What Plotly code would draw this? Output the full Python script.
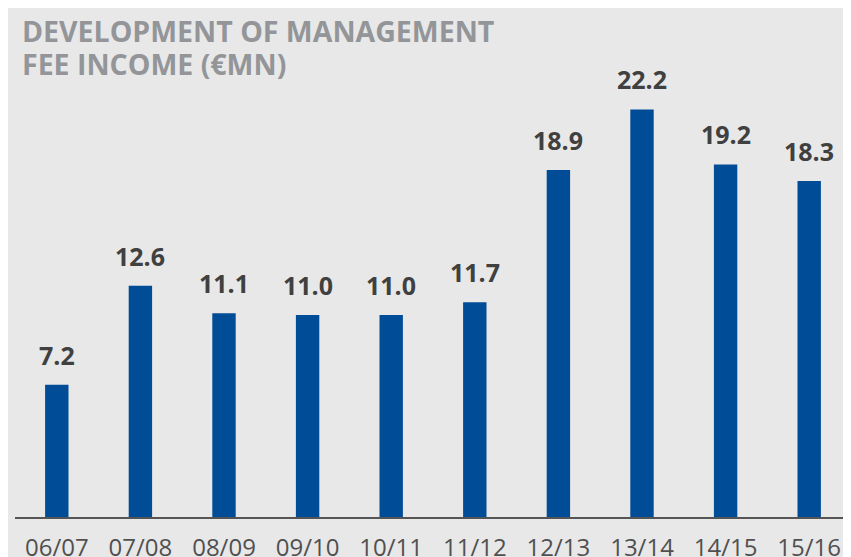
import plotly.graph_objects as go

categories = ["06/07", "07/08", "08/09", "09/10", "10/11", "11/12", "12/13", "13/14", "14/15", "15/16"]
values = [7.2, 12.6, 11.1, 11.0, 11.0, 11.7, 18.9, 22.2, 19.2, 18.3]
value_labels = ["7.2", "12.6", "11.1", "11.0", "11.0", "11.7", "18.9", "22.2", "19.2", "18.3"]
title_lines = ["DEVELOPMENT OF MANAGEMENT", "FEE INCOME (€MN)"]

BG = "#e8e8e8"
BAR = "#004c97"
FONT = "Open Sans"

fig = go.Figure()
fig.add_trace(go.Bar(x=categories, y=values, marker=dict(color=BAR, line=dict(width=0)),
                     hoverinfo="skip"))

for c, v, t in zip(categories, values, value_labels):
    fig.add_annotation(x=c, y=v, text=t, showarrow=False, yanchor="bottom", yshift=11,
                       font=dict(family=FONT, size=25, color="#404040", weight="bold"))

W, H = 843, 549
ml, mr, mt, mb = 7, 0, 1, 40
pw, ph = W - ml - mr, H - mt - mb

def px(xp):
    return (xp - ml) / pw

def py(yp):
    return (H - mb - yp) / ph

for i, line in enumerate(title_lines):
    fig.add_annotation(xref="paper", yref="paper", x=px(12), y=py(2 + i * 33), xanchor="left", yanchor="top",
                       text=line, showarrow=False,
                       font=dict(family=FONT, size=28.5, color="#939598", weight="bold"))

fig.update_layout(
    width=W, height=H,
    margin=dict(l=ml, r=mr, t=mt, b=mb, pad=0, autoexpand=False),
    paper_bgcolor=BG, plot_bgcolor=BG,
    bargap=0.72, showlegend=False,
    xaxis=dict(showgrid=False, showline=True, linecolor="#555555", linewidth=2,
               tickfont=dict(family=FONT, size=24, color="#505050"), ticks="",
               ticklabelstandoff=8, automargin=False, fixedrange=True),
    yaxis=dict(range=[0, ph / 18.36], visible=False, showgrid=False, zeroline=False,
               automargin=False, fixedrange=True),
)

fig.write_html("out.html")
